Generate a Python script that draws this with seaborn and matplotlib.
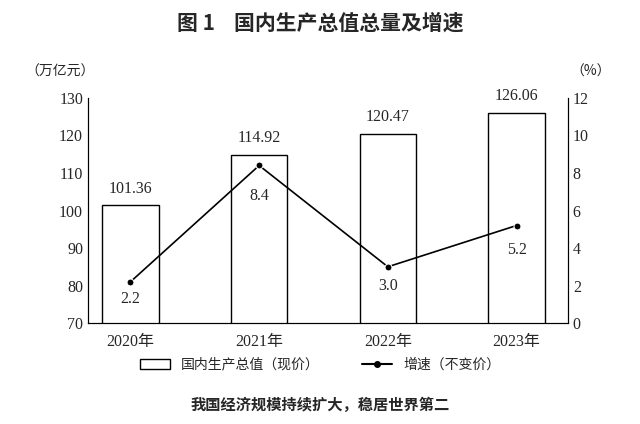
import matplotlib
matplotlib.use("Agg")
import matplotlib.pyplot as plt
import seaborn as sns
import pandas as pd
from matplotlib.patches import Patch
from matplotlib.lines import Line2D

years = ["2020年", "2021年", "2022年", "2023年"]
gdp = [101.36, 114.92, 120.47, 126.06]
growth = [2.2, 8.4, 3.0, 5.2]
growth_labels = ["2.2", "8.4", "3.0", "5.2"]

sns.set_style("white")
plt.rcParams['font.family'] = ['Liberation Serif', 'Noto Sans CJK SC', 'DejaVu Sans']
cjk = ['Noto Sans CJK SC', 'DejaVu Sans']

df = pd.DataFrame({"year": years, "gdp": gdp, "growth": growth, "x": range(4)})

fig = plt.figure(figsize=(6.4, 4.24), dpi=100)
ax = fig.add_axes([0.1375, 0.238, 0.75, 0.531])
sns.barplot(data=df, x="year", y="gdp", ax=ax, width=0.44, facecolor="white",
            edgecolor="black", linewidth=1.0)
ax.set_ylim(70, 130)
ax.set_yticks(range(70, 131, 10))
ax.set_xlim(-0.33, 3.4)
ax.set_xlabel(""); ax.set_ylabel("")
for i, v in enumerate(gdp):
    ax.text(i, v + 2.2, f"{v:.2f}", ha="center", va="bottom", fontsize=11.5)
ax2 = ax.twinx()
sns.lineplot(data=df, x="x", y="growth", ax=ax2, color="black", marker="o",
             markersize=5, linewidth=1.2)
ax2.set_ylim(0, 12)
ax2.set_yticks(range(0, 13, 2))
ax2.set_ylabel("")
label_offsets = [0.5, 1.2, 0.6, 0.9]
for i, (v, s) in enumerate(zip(growth, growth_labels)):
    ax2.text(i, v - label_offsets[i], s, ha="center", va="top", fontsize=11.5)
for a in (ax, ax2):
    a.spines["top"].set_visible(False)
    a.tick_params(labelsize=11.5, length=0)
    for s in a.spines.values():
        s.set_color("black"); s.set_linewidth(0.8)
ax.tick_params(axis="x", pad=8)
for lbl in ax.get_xticklabels():
    lbl.set_family(['Liberation Serif', 'Noto Sans CJK SC'])

fig.text(0.5, 0.945, "图 1    国内生产总值总量及增速", ha="center", va="center",
         fontsize=15, fontweight="bold", family=cjk)
fig.text(0.04, 0.83, "（万亿元）", ha="left", va="center", fontsize=10, family=cjk)
fig.text(0.955, 0.83, "（%）", ha="right", va="center", fontsize=10, family=cjk)
handles = [Patch(facecolor="white", edgecolor="black", label="国内生产总值（现价）"),
           Line2D([], [], color="black", marker="o", markersize=4, label="增速（不变价）")]
fig.legend(handles=handles, loc="center", bbox_to_anchor=(0.5, 0.14), ncol=2,
           frameon=False, prop={'family': cjk, 'size': 10}, columnspacing=3,
           handlelength=2.2)
fig.text(0.5, 0.045, "我国经济规模持续扩大，稳居世界第二", ha="center", va="center",
         fontsize=11, fontweight="bold", family=cjk)
fig.savefig("out.png", dpi=100)
